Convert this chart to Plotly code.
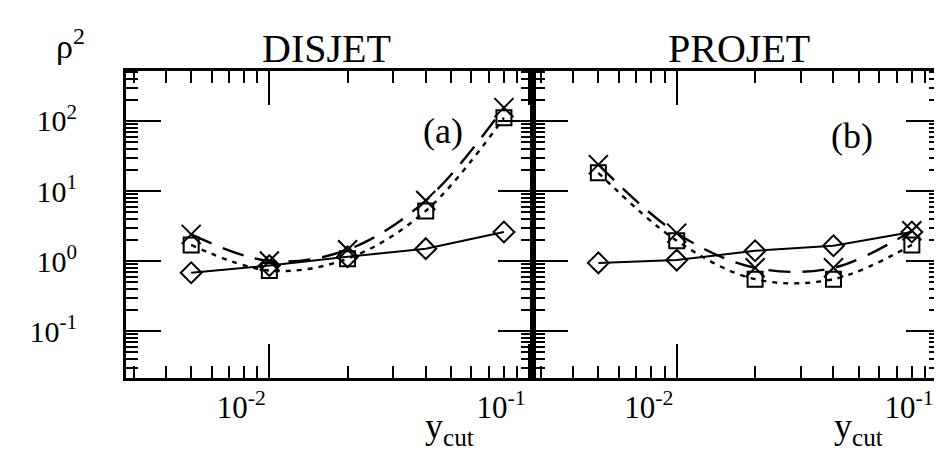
import plotly.graph_objects as go

# y_cut values (same for both generators)
ycut = [0.005, 0.01, 0.02, 0.04, 0.08]

# rho^2 for DISJET (panel a)
disjet_diamond = [0.68, 0.86, 1.15, 1.5, 2.6]
disjet_square = [1.7, 0.73, 1.08, 5.2, 111]
disjet_cross = [2.4, 1.0, 1.45, 7.3, 155]

# rho^2 for PROJET (panel b)
projet_diamond = [0.94, 1.03, 1.4, 1.65, 2.6]
projet_square = [18.2, 1.95, 0.55, 0.55, 1.7]
projet_cross = [23.8, 2.5, 0.8, 0.8, 2.7]

x_tickvals = [0.01, 0.1]
x_ticktext = ['10<sup>-2</sup>', '10<sup>-1</sup>']
y_tickvals = [0.1, 1, 10, 100]
y_ticktext = ['10<sup>-1</sup>', '10<sup>0</sup>', '10<sup>1</sup>', '10<sup>2</sup>']

W, H = 942, 456
FONT = 'Liberation Serif'


def px_x(p):
    return p / W


def px_y(p):
    return 1 - p / H


x_minor = [m * 10 ** e for e in (-3, -2) for m in range(2, 10)]
y_minor = [m * 10 ** e for e in (-2, -1, 0, 1, 2) for m in range(2, 10)]

fig = go.Figure()


def add_panel(fig, xa, ya, diamond, square, cross):
    # solid line with open diamonds
    fig.add_trace(go.Scatter(
        x=ycut, y=diamond, xaxis=xa, yaxis=ya, mode='lines+markers',
        line=dict(color='black', width=2),
        marker=dict(symbol='diamond-open', size=16, color='black', line=dict(width=2)),
        showlegend=False,
    ))
    # dotted curve with open squares
    fig.add_trace(go.Scatter(
        x=ycut, y=square, xaxis=xa, yaxis=ya, mode='lines+markers',
        line=dict(color='black', width=2.4, dash='5px,6px', shape='spline', smoothing=1),
        marker=dict(symbol='square-open', size=15, color='black', line=dict(width=2)),
        showlegend=False,
    ))
    # long dashed curve with crosses
    fig.add_trace(go.Scatter(
        x=ycut, y=cross, xaxis=xa, yaxis=ya, mode='lines+markers',
        line=dict(color='black', width=2.4, dash='22px,12px', shape='spline', smoothing=1),
        marker=dict(symbol='x-thin-open', size=19, color='black', line=dict(width=2, color='black')),
        showlegend=False,
    ))


add_panel(fig, 'x', 'y', disjet_diamond, disjet_square, disjet_cross)
add_panel(fig, 'x2', 'y2', projet_diamond, projet_square, projet_cross)

xcommon = dict(
    type='log', range=[-2.552, -0.985],
    showline=True, linewidth=2.8, linecolor='black', mirror='ticks',
    ticks='inside', ticklen=34, tickwidth=2, tickcolor='black',
    tickmode='array', tickvals=x_tickvals, ticktext=x_ticktext,
    tickfont=dict(family=FONT, size=31, color='black'),
    ticklabelshift=-28,
    minor=dict(ticks='inside', ticklen=12, tickwidth=1.6, tickcolor='black',
               tickmode='array', tickvals=x_minor),
    showgrid=False, zeroline=False, fixedrange=True,
)
ycommon = dict(
    type='log', range=[-1.671, 2.714],
    showline=True, linewidth=2.8, linecolor='black', mirror='ticks',
    ticks='inside', ticklen=35, tickwidth=2, tickcolor='black',
    tickmode='array', tickvals=y_tickvals, ticktext=y_ticktext,
    tickfont=dict(family=FONT, size=30, color='black'),
    minor=dict(ticks='inside', ticklen=12, tickwidth=1.6, tickcolor='black',
               tickmode='array', tickvals=y_minor),
    showgrid=False, zeroline=False, fixedrange=True,
    domain=[px_y(370), px_y(63)],
)

fig.update_layout(
    width=W, height=H,
    margin=dict(l=0, r=0, t=0, b=0),
    paper_bgcolor='white', plot_bgcolor='white',
    xaxis=dict(xcommon, domain=[px_x(118), px_x(525)], anchor='y'),
    xaxis2=dict(xcommon, domain=[px_x(525), px_x(933)], anchor='y2'),
    yaxis=dict(ycommon, anchor='x', ticklabelstandoff=40),
    yaxis2=dict(ycommon, anchor='x2', showticklabels=False),
)

notes = [
    ('DISJET', 318, 40, 40, 'middle'),
    ('PROJET', 731, 40, 40, 'middle'),
    ('(a)', 435, 123, 36, 'middle'),
    ('(b)', 844, 128, 36, 'middle'),
    ('\u03c1<sup>2</sup>', 62, 36, 34, 'middle'),
    ('y<sub>cut</sub>', 441, 445, 36, 'bottom'),
    ('y<sub>cut</sub>', 850, 445, 36, 'bottom'),
]
for text, x, y, size, yanchor in notes:
    fig.add_annotation(
        text=text, x=px_x(x), y=px_y(y), xref='paper', yref='paper',
        showarrow=False, xanchor='center', yanchor=yanchor,
        font=dict(family=FONT, size=size, color='black'),
    )

fig.write_html('out.html')
